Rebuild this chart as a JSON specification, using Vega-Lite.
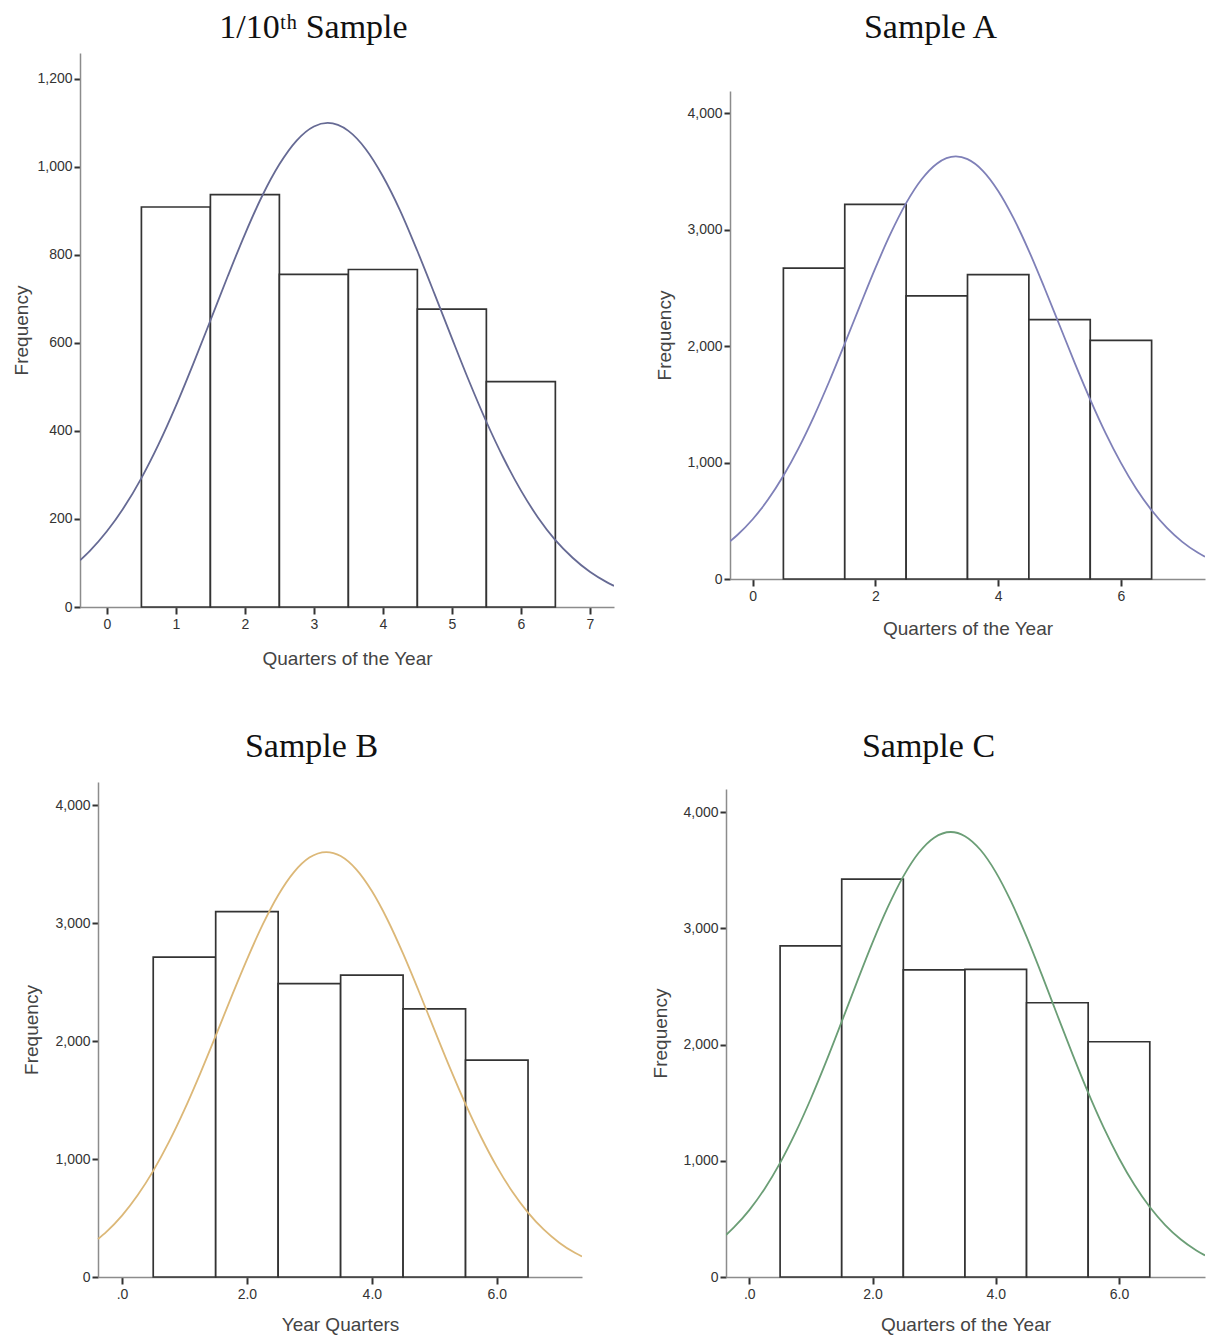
{
  "$schema": "https://vega.github.io/schema/vega-lite/v6.json",
  "padding": {"left": 12, "top": 11, "right": 5, "bottom": 5},
  "background": "#ffffff",
  "bounds": "flush",
  "spacing": 729,
  "config": {
    "view": {"stroke": null},
    "axis": {
      "grid": false,
      "domainColor": "#8c8c8c",
      "domainWidth": 1.5,
      "tickColor": "#333333",
      "tickWidth": 2,
      "labelFont": "Liberation Sans",
      "labelFontSize": 14,
      "labelColor": "#333333",
      "labelPadding": 3,
      "labelFlush": false,
      "labelOverlap": false,
      "titleFont": "Liberation Sans",
      "titleFontSize": 19,
      "titleFontWeight": "normal",
      "titleColor": "#444444"
    },
    "axisX": {"tickSize": 7},
    "axisY": {"tickSize": 6, "labelPadding": 2},
    "title": {"font": "Liberation Serif", "fontSize": 34, "fontWeight": "normal", "color": "#111111", "anchor": "middle", "frame": "bounds"}
  },
  "datasets": {
    "bars": [
      {"p": "P1", "x": 0.5, "xe": 1.5, "y": 909},
      {"p": "P1", "x": 1.5, "xe": 2.5, "y": 937},
      {"p": "P1", "x": 2.5, "xe": 3.5, "y": 756},
      {"p": "P1", "x": 3.5, "xe": 4.5, "y": 767},
      {"p": "P1", "x": 4.5, "xe": 5.5, "y": 677},
      {"p": "P1", "x": 5.5, "xe": 6.5, "y": 512},
      {"p": "P2", "x": 0.5, "xe": 1.5, "y": 2669},
      {"p": "P2", "x": 1.5, "xe": 2.5, "y": 3216},
      {"p": "P2", "x": 2.5, "xe": 3.5, "y": 2431},
      {"p": "P2", "x": 3.5, "xe": 4.5, "y": 2613},
      {"p": "P2", "x": 4.5, "xe": 5.5, "y": 2227},
      {"p": "P2", "x": 5.5, "xe": 6.5, "y": 2048},
      {"p": "P3", "x": 0.5, "xe": 1.5, "y": 2712},
      {"p": "P3", "x": 1.5, "xe": 2.5, "y": 3098},
      {"p": "P3", "x": 2.5, "xe": 3.5, "y": 2487},
      {"p": "P3", "x": 3.5, "xe": 4.5, "y": 2560},
      {"p": "P3", "x": 4.5, "xe": 5.5, "y": 2273},
      {"p": "P3", "x": 5.5, "xe": 6.5, "y": 1838},
      {"p": "P4", "x": 0.5, "xe": 1.5, "y": 2850},
      {"p": "P4", "x": 1.5, "xe": 2.5, "y": 3423},
      {"p": "P4", "x": 2.5, "xe": 3.5, "y": 2643},
      {"p": "P4", "x": 3.5, "xe": 4.5, "y": 2647},
      {"p": "P4", "x": 4.5, "xe": 5.5, "y": 2360},
      {"p": "P4", "x": 5.5, "xe": 6.5, "y": 2024}
    ],
    "curve": [
      {"p": "P1", "x": -0.39, "y": 106}, {"p": "P1", "x": -0.25, "y": 127}, {"p": "P1", "x": 0, "y": 172}, {"p": "P1", "x": 0.25, "y": 227},
      {"p": "P1", "x": 0.5, "y": 293}, {"p": "P1", "x": 0.75, "y": 370}, {"p": "P1", "x": 1, "y": 457}, {"p": "P1", "x": 1.25, "y": 552},
      {"p": "P1", "x": 1.5, "y": 651}, {"p": "P1", "x": 1.75, "y": 751}, {"p": "P1", "x": 2, "y": 847}, {"p": "P1", "x": 2.25, "y": 934},
      {"p": "P1", "x": 2.5, "y": 1006}, {"p": "P1", "x": 2.75, "y": 1060}, {"p": "P1", "x": 3, "y": 1092}, {"p": "P1", "x": 3.2, "y": 1100},
      {"p": "P1", "x": 3.5, "y": 1082}, {"p": "P1", "x": 3.75, "y": 1041}, {"p": "P1", "x": 4, "y": 979}, {"p": "P1", "x": 4.25, "y": 901},
      {"p": "P1", "x": 4.5, "y": 809}, {"p": "P1", "x": 4.75, "y": 711}, {"p": "P1", "x": 5, "y": 611}, {"p": "P1", "x": 5.25, "y": 513},
      {"p": "P1", "x": 5.5, "y": 421}, {"p": "P1", "x": 5.75, "y": 338}, {"p": "P1", "x": 6, "y": 265}, {"p": "P1", "x": 6.25, "y": 203},
      {"p": "P1", "x": 6.5, "y": 152}, {"p": "P1", "x": 6.75, "y": 112}, {"p": "P1", "x": 7, "y": 80}, {"p": "P1", "x": 7.25, "y": 56},
      {"p": "P1", "x": 7.35, "y": 48},
      {"p": "P2", "x": -0.37, "y": 323}, {"p": "P2", "x": -0.25, "y": 378}, {"p": "P2", "x": 0, "y": 513}, {"p": "P2", "x": 0.25, "y": 682},
      {"p": "P2", "x": 0.5, "y": 886}, {"p": "P2", "x": 0.75, "y": 1126}, {"p": "P2", "x": 1, "y": 1399}, {"p": "P2", "x": 1.25, "y": 1700},
      {"p": "P2", "x": 1.5, "y": 2021}, {"p": "P2", "x": 1.75, "y": 2349}, {"p": "P2", "x": 2, "y": 2671}, {"p": "P2", "x": 2.25, "y": 2969},
      {"p": "P2", "x": 2.5, "y": 3227}, {"p": "P2", "x": 2.75, "y": 3430}, {"p": "P2", "x": 3, "y": 3566}, {"p": "P2", "x": 3.31, "y": 3628},
      {"p": "P2", "x": 3.5, "y": 3605}, {"p": "P2", "x": 3.75, "y": 3505}, {"p": "P2", "x": 4, "y": 3332}, {"p": "P2", "x": 4.25, "y": 3098},
      {"p": "P2", "x": 4.5, "y": 2818}, {"p": "P2", "x": 4.75, "y": 2505}, {"p": "P2", "x": 5, "y": 2179}, {"p": "P2", "x": 5.25, "y": 1852},
      {"p": "P2", "x": 5.5, "y": 1541}, {"p": "P2", "x": 5.75, "y": 1253}, {"p": "P2", "x": 6, "y": 997}, {"p": "P2", "x": 6.25, "y": 775},
      {"p": "P2", "x": 6.5, "y": 590}, {"p": "P2", "x": 6.75, "y": 439}, {"p": "P2", "x": 7, "y": 319}, {"p": "P2", "x": 7.25, "y": 227},
      {"p": "P2", "x": 7.37, "y": 191},
      {"p": "P3", "x": -0.384, "y": 322}, {"p": "P3", "x": -0.25, "y": 383}, {"p": "P3", "x": 0, "y": 521}, {"p": "P3", "x": 0.25, "y": 693},
      {"p": "P3", "x": 0.5, "y": 900}, {"p": "P3", "x": 0.75, "y": 1143}, {"p": "P3", "x": 1, "y": 1419}, {"p": "P3", "x": 1.25, "y": 1723},
      {"p": "P3", "x": 1.5, "y": 2045}, {"p": "P3", "x": 1.75, "y": 2373}, {"p": "P3", "x": 2, "y": 2691}, {"p": "P3", "x": 2.25, "y": 2985},
      {"p": "P3", "x": 2.5, "y": 3237}, {"p": "P3", "x": 2.75, "y": 3431}, {"p": "P3", "x": 3, "y": 3556}, {"p": "P3", "x": 3.27, "y": 3603},
      {"p": "P3", "x": 3.5, "y": 3569}, {"p": "P3", "x": 3.75, "y": 3456}, {"p": "P3", "x": 4, "y": 3272}, {"p": "P3", "x": 4.25, "y": 3029},
      {"p": "P3", "x": 4.5, "y": 2741}, {"p": "P3", "x": 4.75, "y": 2425}, {"p": "P3", "x": 5, "y": 2097}, {"p": "P3", "x": 5.25, "y": 1773},
      {"p": "P3", "x": 5.5, "y": 1466}, {"p": "P3", "x": 5.75, "y": 1185}, {"p": "P3", "x": 6, "y": 936}, {"p": "P3", "x": 6.25, "y": 723},
      {"p": "P3", "x": 6.5, "y": 546}, {"p": "P3", "x": 6.75, "y": 403}, {"p": "P3", "x": 7, "y": 291}, {"p": "P3", "x": 7.25, "y": 205},
      {"p": "P3", "x": 7.364, "y": 174},
      {"p": "P4", "x": -0.378, "y": 361}, {"p": "P4", "x": -0.25, "y": 426}, {"p": "P4", "x": 0, "y": 575}, {"p": "P4", "x": 0.25, "y": 760},
      {"p": "P4", "x": 0.5, "y": 982}, {"p": "P4", "x": 0.75, "y": 1242}, {"p": "P4", "x": 1, "y": 1536}, {"p": "P4", "x": 1.25, "y": 1857},
      {"p": "P4", "x": 1.5, "y": 2197}, {"p": "P4", "x": 1.75, "y": 2542}, {"p": "P4", "x": 2, "y": 2877}, {"p": "P4", "x": 2.25, "y": 3184},
      {"p": "P4", "x": 2.5, "y": 3447}, {"p": "P4", "x": 2.75, "y": 3650}, {"p": "P4", "x": 3, "y": 3780}, {"p": "P4", "x": 3.27, "y": 3829},
      {"p": "P4", "x": 3.5, "y": 3793}, {"p": "P4", "x": 3.75, "y": 3676}, {"p": "P4", "x": 4, "y": 3484}, {"p": "P4", "x": 4.25, "y": 3229},
      {"p": "P4", "x": 4.5, "y": 2928}, {"p": "P4", "x": 4.75, "y": 2597}, {"p": "P4", "x": 5, "y": 2252}, {"p": "P4", "x": 5.25, "y": 1911},
      {"p": "P4", "x": 5.5, "y": 1586}, {"p": "P4", "x": 5.75, "y": 1287}, {"p": "P4", "x": 6, "y": 1022}, {"p": "P4", "x": 6.25, "y": 793},
      {"p": "P4", "x": 6.5, "y": 602}, {"p": "P4", "x": 6.75, "y": 447}, {"p": "P4", "x": 7, "y": 325}, {"p": "P4", "x": 7.25, "y": 231},
      {"p": "P4", "x": 7.396, "y": 186}
    ]
  },
  "vconcat": [
    {
      "bounds": "flush",
      "spacing": 116,
      "hconcat": [
        {
          "width": 534,
          "height": 554,
          "title": {"text": "1/10ᵗʰ Sample", "offset": 8},
          "encoding": {
            "x": {"field": "x", "type": "quantitative", "title": "Quarters of the Year",
                  "scale": {"domain": [-0.39, 7.35], "nice": false, "zero": false},
                  "axis": {"values": [0, 1, 2, 3, 4, 5, 6, 7], "format": "d", "titlePadding": 18}},
            "y": {"field": "y", "type": "quantitative", "title": "Frequency",
                  "scale": {"domain": [0, 1259], "nice": false},
                  "axis": {"values": [0, 200, 400, 600, 800, 1000, 1200], "format": ",d", "titlePadding": 5}}
          },
          "layer": [
            {"data": {"name": "bars"}, "transform": [{"filter": "datum.p === 'P1'"}],
             "mark": {"type": "rect", "fill": "#ffffff", "stroke": "#333333", "strokeWidth": 1.7},
             "encoding": {"x2": {"field": "xe"}, "y2": {"datum": 0}}},
            {"data": {"name": "curve"}, "transform": [{"filter": "datum.p === 'P1'"}],
             "mark": {"type": "line", "color": "#666a94", "strokeWidth": 1.8, "interpolate": "monotone", "clip": true},
             "encoding": {}}
          ]
        },
        {
          "width": 475,
          "height": 526,
          "title": {"text": "Sample A", "offset": 8},
          "encoding": {
            "x": {"field": "x", "type": "quantitative", "title": "Quarters of the Year",
                  "scale": {"domain": [-0.37, 7.37], "nice": false, "zero": false},
                  "axis": {"values": [0, 2, 4, 6], "format": "d", "titlePadding": 16}},
            "y": {"field": "y", "type": "quantitative", "title": "Frequency",
                  "scale": {"domain": [0, 4190], "nice": false, "range": [526, 38]},
                  "axis": {"values": [0, 1000, 2000, 3000, 4000], "format": ",d", "titlePadding": 12}}
          },
          "layer": [
            {"data": {"name": "bars"}, "transform": [{"filter": "datum.p === 'P2'"}],
             "mark": {"type": "rect", "fill": "#ffffff", "stroke": "#333333", "strokeWidth": 1.7},
             "encoding": {"x2": {"field": "xe"}, "y2": {"datum": 0}}},
            {"data": {"name": "curve"}, "transform": [{"filter": "datum.p === 'P2'"}],
             "mark": {"type": "line", "color": "#7f80b8", "strokeWidth": 1.8, "interpolate": "monotone", "clip": true},
             "encoding": {}}
          ]
        }
      ]
    },
    {
      "bounds": "flush",
      "spacing": 144,
      "hconcat": [
        {
          "width": 502,
          "height": 495,
          "title": {"text": "Sample B", "offset": 18, "dx": 9},
          "encoding": {
            "x": {"field": "x", "type": "quantitative", "title": "Year Quarters",
                  "scale": {"domain": [-0.384, 7.364], "nice": false, "zero": false, "range": [18, 502]},
                  "axis": {"values": [0, 2, 4, 6], "labelExpr": "datum.value === 0 ? '.0' : format(datum.value, '.1f')", "titlePadding": 14}},
            "y": {"field": "y", "type": "quantitative", "title": "Frequency",
                  "scale": {"domain": [0, 4197], "nice": false},
                  "axis": {"values": [0, 1000, 2000, 3000, 4000], "format": ",d", "titlePadding": 13, "offset": -18}}
          },
          "layer": [
            {"data": {"name": "bars"}, "transform": [{"filter": "datum.p === 'P3'"}],
             "mark": {"type": "rect", "fill": "#ffffff", "stroke": "#333333", "strokeWidth": 1.7},
             "encoding": {"x2": {"field": "xe"}, "y2": {"datum": 0}}},
            {"data": {"name": "curve"}, "transform": [{"filter": "datum.p === 'P3'"}],
             "mark": {"type": "line", "color": "#dcb878", "strokeWidth": 1.8, "interpolate": "monotone", "clip": true},
             "encoding": {}}
          ]
        },
        {
          "width": 479,
          "height": 495,
          "title": {"text": "Sample C", "offset": 18},
          "encoding": {
            "x": {"field": "x", "type": "quantitative", "title": "Quarters of the Year",
                  "scale": {"domain": [-0.378, 7.396], "nice": false, "zero": false},
                  "axis": {"values": [0, 2, 4, 6], "labelExpr": "datum.value === 0 ? '.0' : format(datum.value, '.1f')", "titlePadding": 14}},
            "y": {"field": "y", "type": "quantitative", "title": "Frequency",
                  "scale": {"domain": [0, 4199], "nice": false, "range": [495, 7]},
                  "axis": {"values": [0, 1000, 2000, 3000, 4000], "format": ",d", "titlePadding": 12}}
          },
          "layer": [
            {"data": {"name": "bars"}, "transform": [{"filter": "datum.p === 'P4'"}],
             "mark": {"type": "rect", "fill": "#ffffff", "stroke": "#333333", "strokeWidth": 1.7},
             "encoding": {"x2": {"field": "xe"}, "y2": {"datum": 0}}},
            {"data": {"name": "curve"}, "transform": [{"filter": "datum.p === 'P4'"}],
             "mark": {"type": "line", "color": "#6b9e76", "strokeWidth": 1.8, "interpolate": "monotone", "clip": true},
             "encoding": {}}
          ]
        }
      ]
    }
  ]
}
